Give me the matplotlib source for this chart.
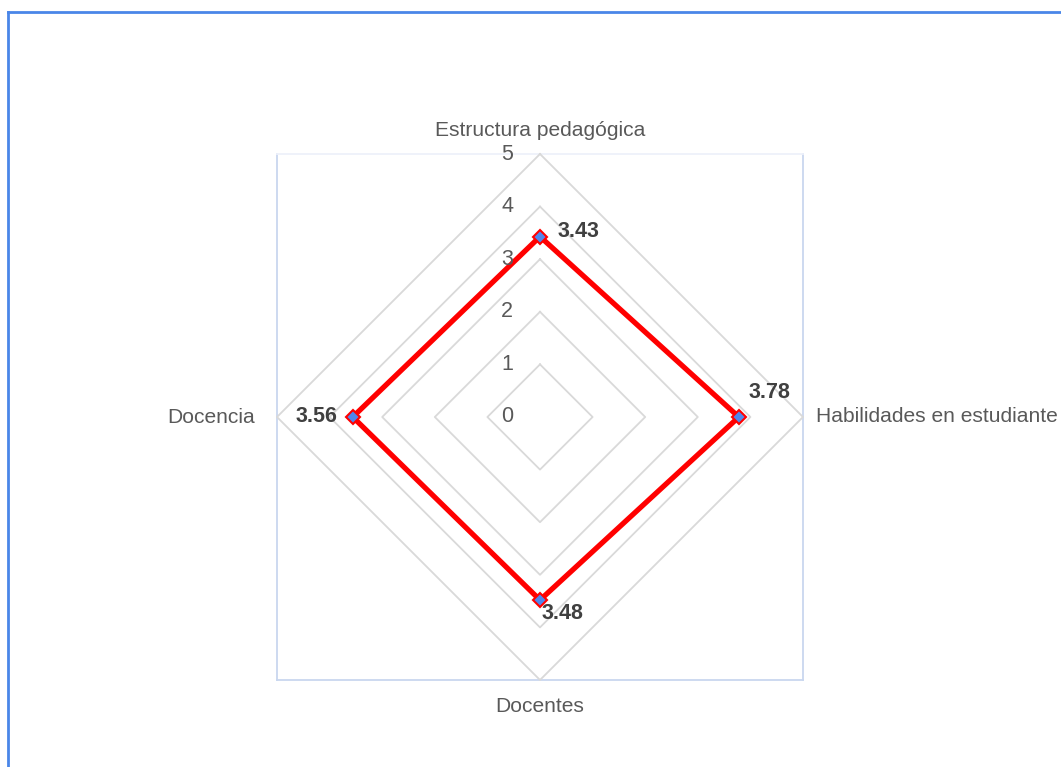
import matplotlib
matplotlib.use('Agg')
import matplotlib.pyplot as plt
from matplotlib.lines import Line2D
import numpy as np

plt.rcParams['font.family'] = ['Liberation Sans', 'DejaVu Sans']

categories = ['Estructura pedagógica', 'Habilidades en estudiante', 'Docentes', 'Docencia']
values = [3.43, 3.78, 3.48, 3.56]
rings = [1, 2, 3, 4, 5]
tick_values = [0, 1, 2, 3, 4, 5]

W, H = 1061, 767
fig = plt.figure(figsize=(W / 100, H / 100), dpi=100)
rect = [277 / W, 87 / H, 526 / W, 526 / H]

# plot-area box behind the radar
box = fig.add_axes(rect)
box.set_xticks([])
box.set_yticks([])
for name, sp in box.spines.items():
    sp.set_color('#c9d7ef' if name != 'top' else '#eef1fa')
    sp.set_linewidth(1.3)

ax = fig.add_axes(rect, projection='polar')
ax.patch.set_alpha(0)
ax.set_theta_zero_location('N')
ax.set_theta_direction(-1)
ax.set_ylim(0, 5)
ax.grid(False)
ax.spines['polar'].set_visible(False)
ax.set_xticks([])
ax.set_yticks([])

angles = np.arange(len(categories)) * 2 * np.pi / len(categories)
closed = np.append(angles, angles[0])

for r in rings:
    ax.plot(closed, [r] * len(closed), color='#d9d9d9', lw=1.3, zorder=1, clip_on=False)

ax.plot(closed, values + values[:1], color='#ff0000', lw=3.8, zorder=3,
        solid_joinstyle='miter')
ax.plot(angles, values, ls='none', marker='D', ms=7, mfc='#4f86ec',
        mec='#ff0000', mew=1.5, zorder=4)

grey = '#595959'
for t in tick_values:
    ax.annotate(str(t), (0, t), xytext=(-33, 0), textcoords='offset pixels',
                ha='center', va='center', fontsize=15.5, color=grey)

# category labels
cat_off = [(0, 23, 'center'), (13, 0, 'left'), (0, -26, 'center'), (-22, 0, 'right')]
for a, name, (dx, dy, ha) in zip(angles, categories, cat_off):
    ax.annotate(name, (a, 5), xytext=(dx, dy), textcoords='offset pixels',
                ha=ha, va='center', fontsize=15.1, color=grey, annotation_clip=False)

# data labels
lab_off = [(18, 5, 'left'), (31, 24, 'center'), (2, -13, 'left'), (-15, 0, 'right')]
for a, v, (dx, dy, ha) in zip(angles, values, lab_off):
    ax.annotate('%.2f' % v, (a, v), xytext=(dx, dy), textcoords='offset pixels',
                ha=ha, va='center', fontsize=15.5, fontweight='bold', color='#404040')

# outer frame (left and top edges visible)
fig.add_artist(Line2D([8 / W, 8 / W], [0, 1 - 12 / H], transform=fig.transFigure,
                      color='#4a86e8', lw=2))
fig.add_artist(Line2D([8 / W, 1], [1 - 12 / H, 1 - 12 / H], transform=fig.transFigure,
                      color='#4a86e8', lw=2))

fig.savefig('out.png', dpi=100)
